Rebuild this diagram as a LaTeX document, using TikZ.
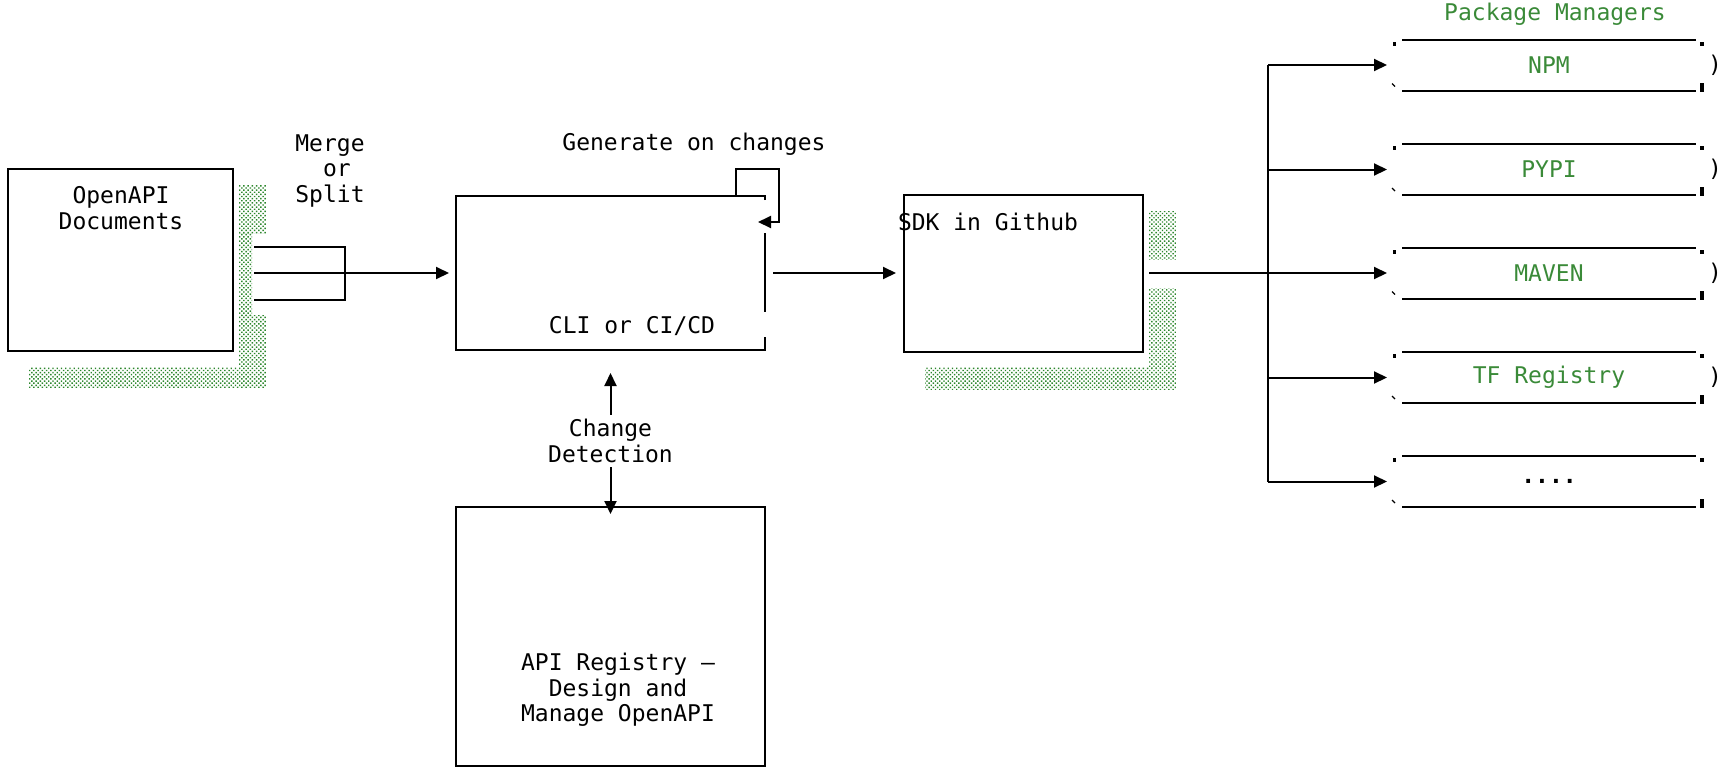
\documentclass[tikz,border=0pt]{standalone}
\usepackage{fontspec}
\setmainfont{DejaVu Sans Mono}
\usepackage{tikz}
\usetikzlibrary{positioning,calc,arrows.meta,patterns.meta}
\usepackage{xcolor}
\definecolor{pmgreen}{RGB}{58,138,56}
\definecolor{shade}{RGB}{45,135,45}

\begin{document}
\begin{tikzpicture}[x=0.5pt, y=-0.5pt,
    font=\fontsize{11.5pt}{12.75pt}\selectfont,
    wire/.style={line width=1pt},
    arr/.style={wire, -{Triangle[length=6.5pt,width=6pt]}},
    box/.style={draw, line width=1pt, inner sep=0pt, outer sep=0pt},
    drum/.style={inner sep=0pt, outer sep=0pt, minimum width=147pt, minimum height=25.5pt, text=pmgreen},
    lbl/.style={align=center},
    stipple/.style={pattern={Dots[radius=0.5pt,distance=1.5pt,angle=45]}, pattern color=shade}]
    \useasboundingbox (0,0) rectangle (1724,782);

    % shadows
    \fill[stipple] (239,185) rectangle (266,233);
    \fill[stipple] (239,233) rectangle (252,315);
    \fill[stipple] (239,315) rectangle (266,387);
    \fill[stipple] (29,367) rectangle (239,387);
    \fill[stipple] (1149,211) rectangle (1176,259);
    \fill[stipple] (1149,288) rectangle (1176,367);
    \fill[stipple] (925,367) rectangle (1176,389);

    % boxes
    \node[box, minimum width=112.5pt, minimum height=91pt] (docs) at (120.5,260) {};
    \node[lbl] (docstxt) at (121,208) {OpenAPI\\Documents};

    \node[box, draw=none, minimum width=154.5pt, minimum height=77pt] (cli) at (610.5,273) {};
    \draw[wire] ($(cli.north east)+(0,4)$) -- (cli.north east) -- (cli.north west)
        -- (cli.south west) -- (cli.south east) -- ++(0,-13);
    \draw[wire] ($(cli.north east)+(0,37)$) -- ++(0,79);
    \node (clitxt) at (632,326) {CLI or CI/CD};

    \node[box, minimum width=119.5pt, minimum height=78.5pt] (sdk) at (1023.5,273) {};
    \node (sdktxt) at (988,222) {SDK in Github};

    \node[box, minimum width=154.5pt, minimum height=129.5pt] (reg) at (610.5,636.5) {};
    \node[lbl] (regtxt) at (618,690) {API Registry –\\Design and\\Manage OpenAPI};

    % merge or split
    \coordinate (fork) at ($(docs.east |- cli.west)+(21,0)$);
    \draw[wire] ($(fork)+(0,-26)$) -| ($(fork)+(91,27)$) -- ($(fork)+(0,27)$);
    \draw[arr, shorten >=3.5pt] (fork) -- (cli.west);
    \node[align=left] (mergetxt) at (330,171) {Merge\\\hphantom{xx}or\\Split};

    % generate loop
    \draw[arr] ($(cli.north east)+(-29,0)$) -- ++(0,-27) -- ++(43,0) -- ++(0,53) -- ++(-21,0);
    \node (gentxt) at (694,144) {Generate on changes};

    \draw[arr, shorten <=4pt, shorten >=4pt] (cli.east) -- (cli.east -| sdk.west);

    % change detection
    \node[lbl, inner sep=2pt] (detect) at (610.5,441) {Change\\Detection};
    \draw[arr, shorten >=11.5pt] (detect) -- (cli.south);
    \draw[arr, shorten >=-3.5pt] (detect) -- (reg.north);

    % package managers
    \node[text=pmgreen] (pmtitle) at (1555,14) {Package Managers};
    \node[drum] (npm) at (1549,65) {NPM};
    \node[drum] (pypi) at (1549,169.5) {PYPI};
    \node[drum] (maven) at (1549,273) {MAVEN};
    \node[drum] (tf) at (1549,377.5) {TF Registry};
    \node[drum, text=black, font=\fontsize{11.5pt}{12.75pt}\selectfont\bfseries] (more) at (1549,481.5) {....};

    \foreach \d in {npm,pypi,maven,tf,more} {
        \draw[wire] (\d.north west) -- (\d.north east) (\d.south west) -- (\d.south east);
        \fill ($(\d.north west)+(-9.5,2)$) rectangle ++(3.5,4);
        \fill ($(\d.north east)+(4,2)$) rectangle ++(3.5,4);
        \draw[line width=0.6pt] ($(\d.south west)+(-10,-7)$) -- ++(3,3);
        \fill ($(\d.south east)+(4,-8)$) rectangle ++(3.5,9);
    }
    \foreach \d in {npm,pypi,maven,tf}
        \node (\d-paren) at ($(\d.east)+(19,0)$) {)};

    % bus
    \coordinate (bus) at (1268,273);
    \draw[wire, shorten <=3pt] (sdk.east) -- (bus);
    \draw[wire] (bus |- npm.west) -- (bus |- more.west);
    \foreach \d in {npm,pypi,maven,tf,more}
        \draw[arr, shorten >=7.5pt] (bus |- \d.west) -- (\d.west);
\end{tikzpicture}
\end{document}
